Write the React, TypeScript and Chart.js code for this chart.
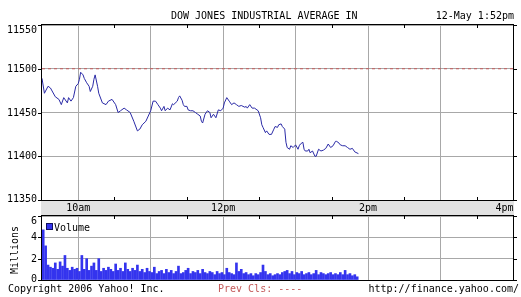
import React, { useEffect, useRef } from 'react';
import { Chart, registerables } from 'chart.js';
Chart.register(...registerables);

const W = 521;
const H = 297;
const FONT_FAMILY = '"DejaVu Sans Mono", "Liberation Mono", monospace';
const FONT = '10px ' + FONT_FAMILY;
const GRID = '#a8a8a8';
const LINE_COLOR = '#2a2aa6';
const VOL_COLOR = '#3434ee';
const PREV_COLOR = '#c45a5a';
const BAND = '#e2e2e2';

// minutes after 9:30am
const priceTimes = [
  0, 2, 5, 7, 11, 14, 16, 18, 21, 22, 24, 26, 28, 30, 31, 32, 34, 35, 37, 39,
  40, 42, 43, 44, 46, 47, 50, 53, 55, 58, 61, 63, 65, 68, 70, 73, 76, 79, 81, 83,
  86, 88, 90, 92, 94, 96, 98, 99, 101, 102, 104, 106, 108, 109, 112, 113, 114, 116, 117, 118,
  120, 121, 123, 125, 127, 129, 131, 132, 133, 135, 137, 139, 140, 142, 144, 146, 148, 150, 151, 153,
  155, 157, 159, 161, 163, 165, 168, 169, 170, 172, 174, 176, 178, 179, 181, 182, 183, 185, 186, 188,
  190, 192, 193, 195, 196, 198, 199, 201, 202, 203, 205, 206, 208, 210, 212, 213, 214, 216, 217, 218,
  220, 221, 222, 224, 226, 227, 229, 231, 233, 235, 237, 239, 241, 243, 244, 246, 247, 249, 251, 253,
  255, 257, 259, 262,
];
const priceValues = [
  11489, 11472, 11480, 11478, 11468, 11465, 11459, 11467, 11461, 11467, 11463, 11467, 11480, 11483, 11488, 11496, 11493, 11489, 11484, 11480,
  11474, 11480, 11488, 11493, 11480, 11472, 11461, 11459, 11463, 11465, 11459, 11450, 11452, 11455, 11453, 11450, 11440, 11429, 11431, 11436,
  11440, 11446, 11452, 11463, 11463, 11459, 11455, 11452, 11457, 11452, 11455, 11453, 11460, 11459, 11463, 11467, 11469, 11464, 11459, 11457,
  11457, 11453, 11452, 11452, 11450, 11448, 11446, 11440, 11438, 11448, 11452, 11450, 11444, 11448, 11444, 11453, 11452, 11455, 11461, 11467,
  11463, 11459, 11461, 11459, 11457, 11458, 11456, 11457, 11455, 11459, 11455, 11455, 11453, 11452, 11444, 11436, 11433, 11427, 11429, 11425,
  11425, 11431, 11434, 11433, 11436, 11437, 11434, 11431, 11416, 11410, 11408, 11412, 11410, 11413, 11408, 11412, 11414, 11416, 11408, 11406,
  11406, 11408, 11404, 11406, 11400, 11400, 11408, 11406, 11407, 11409, 11414, 11410, 11412, 11417, 11417, 11415, 11413, 11412, 11412, 11410,
  11408, 11409, 11405, 11403,
];
const prevClose = 11500;

// mid-points (minutes after 9:30) of 2-minute volume intervals
const volTimes = [
  1, 3, 5, 7, 9, 11, 13, 15, 17, 19, 21, 23, 25, 27, 29, 31, 33, 35, 37, 39,
  41, 43, 45, 47, 49, 51, 53, 55, 57, 59, 61, 63, 65, 67, 69, 71, 73, 75, 77, 79,
  81, 83, 85, 87, 89, 91, 93, 95, 97, 99, 101, 103, 105, 107, 109, 111, 113, 115, 117, 119,
  121, 123, 125, 127, 129, 131, 133, 135, 137, 139, 141, 143, 145, 147, 149, 151, 153, 155, 157, 159,
  161, 163, 165, 167, 169, 171, 173, 175, 177, 179, 181, 183, 185, 187, 189, 191, 193, 195, 197, 199,
  201, 203, 205, 207, 209, 211, 213, 215, 217, 219, 221, 223, 225, 227, 229, 231, 233, 235, 237, 239,
  241, 243, 245, 247, 249, 251, 253, 255, 257, 259, 261,
];
// millions of shares
const volValues = [
  4.7, 3.2, 1.4, 1.2, 1.1, 1.6, 1.0, 1.7, 1.3, 2.3, 1.1, 0.9, 1.2, 1.0, 1.1, 0.8, 2.3, 1.0, 2.0, 0.9,
  1.3, 1.6, 0.9, 2.0, 0.8, 1.1, 0.9, 1.2, 1.0, 0.8, 1.5, 0.9, 1.1, 0.8, 1.6, 1.0, 0.8, 1.1, 0.9, 1.4,
  0.8, 1.0, 0.7, 1.1, 0.8, 0.7, 1.2, 0.6, 0.8, 0.9, 0.6, 1.0, 0.7, 0.9, 0.6, 0.8, 1.3, 0.6, 0.7, 0.9,
  1.1, 0.6, 0.8, 0.7, 0.9, 0.6, 1.0, 0.7, 0.6, 0.8, 0.7, 0.5, 0.8, 0.6, 0.7, 0.5, 1.1, 0.7, 0.6, 0.5,
  1.6, 0.8, 1.0, 0.6, 0.7, 0.5, 0.6, 0.4, 0.6, 0.5, 0.7, 1.4, 0.8, 0.5, 0.6, 0.4, 0.5, 0.6, 0.5, 0.7,
  0.8, 0.9, 0.6, 0.8, 0.5, 0.7, 0.6, 0.8, 0.5, 0.6, 0.7, 0.5, 0.6, 0.9, 0.5, 0.7, 0.6, 0.5, 0.6, 0.7,
  0.5, 0.6, 0.5, 0.7, 0.5, 0.9, 0.5, 0.6, 0.4, 0.5, 0.3,
];

const priceTicks = [11350, 11400, 11450, 11500, 11550];
const volTicks = [0, 2, 4, 6];
const hourTicks = [30, 90, 150, 210, 270, 330, 390];
const halfHourTicks = [60, 120, 180, 240, 300, 360];
const xLabelValues = [30, 150, 270, 390];
const xLabels = ['10am', '12pm', '2pm', '4pm'];

const titleText = 'DOW JONES INDUSTRIAL AVERAGE IN';
const dateText = '12-May 1:52pm';
const copyrightText = 'Copyright 2006 Yahoo! Inc.';
const prevClsText = 'Prev Cls: ----';
const urlText = 'http://finance.yahoo.com/';
const volAxisTitle = 'Millions';
const volLegend = 'Volume';

const LEFT = 42;
const RIGHT = 513;

function xScaleOpts() {
  return {
    type: 'linear',
    min: 0,
    max: 390,
    offset: false,
    afterBuildTicks: (s: any) => {
      s.ticks = hourTicks.map((v) => ({ value: v }));
    },
    afterFit: (s: any) => {
      s.height = 0;
      s.paddingLeft = 0;
      s.paddingRight = 0;
    },
    ticks: { display: false },
    grid: { color: GRID, lineWidth: 1, drawTicks: false, offset: false },
    border: { display: false },
  };
}

function yScaleOpts(min: number, max: number, ticks: number[]) {
  return {
    type: 'linear',
    position: 'left',
    min,
    max,
    afterBuildTicks: (s: any) => {
      s.ticks = ticks.map((v) => ({ value: v }));
    },
    afterFit: (s: any) => {
      s.width = LEFT;
    },
    ticks: { display: false },
    grid: { color: GRID, lineWidth: 1, drawTicks: false },
    border: { display: false },
  };
}

function decorate(chart: any, yTicks: number[], topMinor: boolean, bottomMinor: boolean) {
  const { ctx, chartArea: a } = chart;
  const xs = chart.scales.x;
  const ys = chart.scales.y;
  ctx.save();
  ctx.strokeStyle = '#000';
  ctx.lineWidth = 1;
  ctx.strokeRect(a.left - 0.5, a.top - 0.5, a.right - a.left + 1, a.bottom - a.top + 1);
  ctx.beginPath();
  for (const m of halfHourTicks) {
    const px = Math.round(xs.getPixelForValue(m)) + 0.5;
    if (topMinor) {
      ctx.moveTo(px, a.top);
      ctx.lineTo(px, a.top + 3);
    }
    if (bottomMinor) {
      ctx.moveTo(px, a.bottom - 3);
      ctx.lineTo(px, a.bottom);
    }
  }
  for (const v of yTicks) {
    const py = Math.round(ys.getPixelForValue(v)) + 0.5;
    ctx.moveTo(a.left - 4, py);
    ctx.lineTo(a.left - 1, py);
    ctx.moveTo(a.right + 1, py);
    ctx.lineTo(a.right + 4, py);
  }
  ctx.stroke();
  ctx.fillStyle = '#000';
  ctx.font = FONT;
  ctx.textAlign = 'right';
  ctx.textBaseline = 'middle';
  for (const v of yTicks) {
    let py = ys.getPixelForValue(v);
    py = Math.min(Math.max(py, a.top + 4.5), a.bottom - 1);
    ctx.fillText(String(v), a.left - 5, py + 0.5);
  }
  ctx.restore();
}

const pricePlugin = {
  id: 'priceDecor',
  beforeDraw(chart: any) {
    const { ctx, chartArea: a } = chart;
    ctx.save();
    ctx.fillStyle = BAND;
    ctx.fillRect(a.left - 1, a.bottom, a.right - a.left + 2, 16);
    ctx.restore();
  },
  afterDraw(chart: any) {
    decorate(chart, priceTicks, true, true);
    const { ctx, chartArea: a } = chart;
    const xs = chart.scales.x;
    ctx.save();
    ctx.fillStyle = '#000';
    ctx.font = FONT;
    ctx.textBaseline = 'alphabetic';
    xLabelValues.forEach((v, i) => {
      const px = xs.getPixelForValue(v);
      const w = ctx.measureText(xLabels[i]).width;
      if (px + w / 2 > a.right) {
        ctx.textAlign = 'right';
        ctx.fillText(xLabels[i], a.right + 0.5, 211);
      } else {
        ctx.textAlign = 'center';
        ctx.fillText(xLabels[i], px, 211);
      }
    });
    ctx.restore();
  },
};

const volPlugin = {
  id: 'volDecor',
  afterDraw(chart: any) {
    decorate(chart, volTicks, true, false);
  },
};

function Txt(props: { x: number; base: number; align?: 'left' | 'right'; color?: string; children: string }) {
  const style: any = {
    position: 'absolute',
    top: props.base - 9.5,
    fontFamily: FONT_FAMILY,
    fontSize: 10,
    lineHeight: '12px',
    whiteSpace: 'pre',
    color: props.color || '#000',
  };
  if (props.align === 'right') style.right = W - props.x;
  else style.left = props.x;
  return <div style={style}>{props.children}</div>;
}

export default function App() {
  const priceRef = useRef<HTMLCanvasElement>(null);
  const volRef = useRef<HTMLCanvasElement>(null);

  useEffect(() => {
    document.body.style.margin = '0';
    Chart.defaults.font.family = FONT_FAMILY;
    Chart.defaults.font.size = 10;

    const priceChart = new Chart(priceRef.current as HTMLCanvasElement, {
      type: 'line',
      data: {
        datasets: [
          {
            data: priceTimes.map((t, i) => ({ x: t, y: priceValues[i] })),
            borderColor: LINE_COLOR,
            borderWidth: 1,
            pointRadius: 0,
            tension: 0,
            fill: false,
          },
          {
            data: [
              { x: 0, y: prevClose },
              { x: 390, y: prevClose },
            ],
            borderColor: PREV_COLOR,
            borderWidth: 1,
            borderDash: [3, 3],
            pointRadius: 0,
            fill: false,
          },
        ],
      } as any,
      options: {
        responsive: false,
        maintainAspectRatio: false,
        animation: false,
        events: [],
        layout: { padding: { left: 0, right: W - RIGHT, top: 25, bottom: H - 200 } },
        scales: {
          x: xScaleOpts() as any,
          y: yScaleOpts(11350, 11550, priceTicks) as any,
        },
        plugins: { legend: { display: false }, tooltip: { enabled: false } },
      },
      plugins: [pricePlugin],
    });

    const volChart = new Chart(volRef.current as HTMLCanvasElement, {
      type: 'bar',
      data: {
        datasets: [
          {
            data: volTimes.map((t, i) => ({ x: t, y: volValues[i] })),
            backgroundColor: VOL_COLOR,
            borderWidth: 0,
            barThickness: 2,
          },
        ],
      } as any,
      options: {
        responsive: false,
        maintainAspectRatio: false,
        animation: false,
        events: [],
        layout: { padding: { left: 0, right: W - RIGHT, top: 216, bottom: H - 280 } },
        scales: {
          x: xScaleOpts() as any,
          y: yScaleOpts(0, 6, volTicks) as any,
        },
        plugins: { legend: { display: false }, tooltip: { enabled: false } },
      },
      plugins: [volPlugin],
    });

    return () => {
      priceChart.destroy();
      volChart.destroy();
    };
  }, []);

  const canvasStyle: any = { position: 'absolute', left: 0, top: 0, width: W, height: H };

  return (
    <div style={{ position: 'fixed', left: 0, top: 0, width: W, height: H, background: '#fff', overflow: 'hidden' }}>
      <canvas ref={priceRef} width={W} height={H} style={canvasStyle} />
      <canvas ref={volRef} width={W} height={H} style={canvasStyle} />
      <Txt x={171} base={19.5}>{titleText}</Txt>
      <Txt x={514} base={19.5} align="right">{dateText}</Txt>
      <Txt x={8} base={292.5}>{copyrightText}</Txt>
      <Txt x={218} base={292.5} color={PREV_COLOR}>{prevClsText}</Txt>
      <Txt x={519} base={292.5} align="right">{urlText}</Txt>
      <div
        style={{
          position: 'absolute',
          left: 46,
          top: 223,
          width: 5,
          height: 5,
          background: VOL_COLOR,
          border: '1px solid #101060',
        }}
      />
      <Txt x={54} base={231}>{volLegend}</Txt>
      <div
        style={{
          position: 'absolute',
          left: 15,
          top: 250,
          transform: 'translate(-50%, -50%) rotate(-90deg)',
          fontFamily: FONT_FAMILY,
          fontSize: 10,
          lineHeight: '12px',
          whiteSpace: 'pre',
          color: '#000',
        }}
      >
        {volAxisTitle}
      </div>
    </div>
  );
}
